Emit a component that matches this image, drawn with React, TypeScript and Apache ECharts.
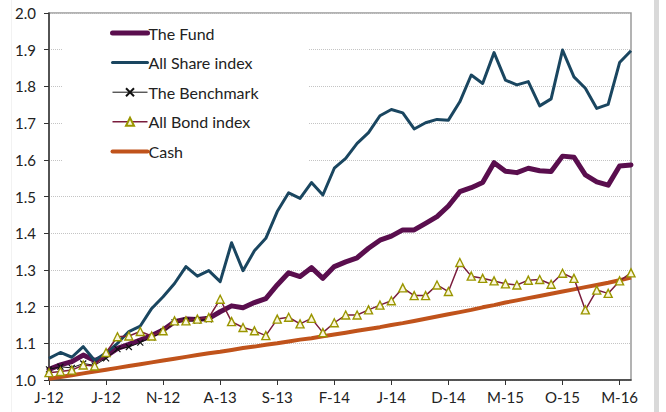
import React, { useEffect, useRef } from "react";
import * as echarts from "echarts";

const months = [
  "J-12","F-12","M-12","A-12","M-12","J-12","J-12","A-12","S-12","O-12","N-12","D-12",
  "J-13","F-13","M-13","A-13","M-13","J-13","J-13","A-13","S-13","O-13","N-13","D-13",
  "J-14","F-14","M-14","A-14","M-14","J-14","J-14","A-14","S-14","O-14","N-14","D-14",
  "J-15","F-15","M-15","A-15","M-15","J-15","J-15","A-15","S-15","O-15","N-15","D-15",
  "J-16","F-16","M-16","A-16"
];

const fund = [
  1.029,1.041,1.050,1.068,1.053,1.065,1.086,1.097,1.109,1.121,1.136,1.159,
  1.166,1.165,1.168,1.186,1.202,1.197,1.211,1.222,1.259,1.292,1.282,1.306,
  1.277,1.309,1.322,1.333,1.359,1.381,1.392,1.409,1.409,1.427,1.445,1.474,
  1.513,1.524,1.538,1.592,1.569,1.565,1.577,1.570,1.568,1.610,1.607,1.559,
  1.540,1.531,1.583,1.586
];

const shareIndex = [
  1.059,1.075,1.062,1.091,1.053,1.074,1.100,1.132,1.147,1.195,1.227,1.263,
  1.309,1.283,1.298,1.268,1.374,1.298,1.352,1.386,1.459,1.510,1.495,1.538,
  1.504,1.577,1.604,1.645,1.674,1.720,1.737,1.728,1.684,1.701,1.710,1.708,
  1.758,1.831,1.808,1.892,1.817,1.804,1.813,1.747,1.766,1.899,1.826,1.795,
  1.740,1.751,1.865,1.897
];

const benchmark: (number | null)[] = [
  1.029,1.036,1.033,1.045,1.040,1.059,1.084,1.090,1.102,1.116,1.131,1.157,
  1.161,1.162,1.165,null,null,null,null,null,null,null,null,null,
  null,null,null,null,null,null,null,null,null,null,null,null,
  null,null,null,null,null,null,null,null,null,null,null,null,
  null,null,null,null
];

const bondIndex = [
  1.020,1.023,1.027,1.041,1.038,1.075,1.118,1.120,1.132,1.120,1.134,1.161,
  1.161,1.166,1.170,1.220,1.159,1.143,1.134,1.121,1.166,1.171,1.153,1.168,
  1.129,1.156,1.177,1.177,1.191,1.204,1.216,1.251,1.230,1.230,1.259,1.241,
  1.320,1.283,1.277,1.270,1.262,1.259,1.272,1.274,1.261,1.291,1.277,1.191,
  1.245,1.236,1.270,1.292
];

const cash = [
  1.003,1.008,1.013,1.018,1.023,1.028,1.033,1.038,1.043,1.048,1.053,1.058,
  1.063,1.068,1.073,1.077,1.082,1.087,1.091,1.096,1.100,1.105,1.110,1.114,
  1.119,1.124,1.129,1.134,1.139,1.144,1.150,1.155,1.161,1.167,1.173,1.179,
  1.185,1.191,1.198,1.204,1.211,1.217,1.223,1.229,1.235,1.241,1.247,1.253,
  1.259,1.265,1.272,1.279
];

const FONT = "Lato, 'Open Sans', sans-serif";

export default function App() {
  const ref = useRef<HTMLDivElement>(null);
  useEffect(() => {
    if (!ref.current) return;
    const chart = echarts.init(ref.current, null, { renderer: "svg" });
    const hidden = { opacity: 0 };
    chart.setOption({
      animation: false,
      backgroundColor: "#ffffff",
      textStyle: { fontFamily: FONT },
      graphic: [
        { type: "rect", left: 654, top: 0, shape: { width: 5, height: 412 }, style: { fill: "#d9d9d9" }, z: 0 },
        { type: "rect", left: 11, top: 0, shape: { width: 1, height: 412 }, style: { fill: "#f2f2f2" }, z: 0 },
      ],
      grid: {
        left: 49, right: 35, top: 13, bottom: 32,
        show: true, borderColor: "#9a9a9a", borderWidth: 1.5, backgroundColor: "transparent",
      },
      legend: {
        orient: "vertical",
        left: 63,
        top: 15,
        padding: [10, 50, 14, 47],
        backgroundColor: "#ffffff",
        itemWidth: 35,
        itemHeight: 10,
        itemGap: 13.6,
        textStyle: { fontFamily: FONT, fontSize: 16, color: "#222", padding: [0, 0, 0, -4] },
        data: [
          { name: "The Fund", itemStyle: hidden, lineStyle: { width: 5, color: "#5a0e4e", cap: "round" } },
          { name: "All Share index", itemStyle: hidden, lineStyle: { width: 3, color: "#1a4660", cap: "round" } },
          { name: "The Benchmark", lineStyle: { width: 1, color: "#111" } },
          { name: "All Bond index", lineStyle: { width: 1.5, color: "#7a1c3c" } },
          { name: "Cash", itemStyle: hidden, lineStyle: { width: 4, color: "#c0531b", cap: "round" } },
        ],
        z: 3,
      },
      xAxis: {
        type: "category",
        data: months,
        boundaryGap: false,
        axisLine: { show: true, lineStyle: { color: "#333", width: 1.5 } },
        axisTick: { show: true, interval: 4, length: 5, lineStyle: { color: "#333", width: 1 } },
        axisLabel: { interval: 4, fontSize: 15, color: "#222", fontFamily: FONT, margin: 9 },
        splitLine: { show: false },
      },
      yAxis: {
        type: "value",
        min: 1,
        max: 2,
        interval: 0.1,
        axisLine: { show: true, lineStyle: { color: "#333", width: 1.5 } },
        axisTick: { show: true, length: 5, lineStyle: { color: "#333" } },
        axisLabel: {
          fontSize: 15, color: "#222", fontFamily: FONT, margin: 13,
          formatter: (v: number) => v.toFixed(1),
        },
        splitLine: { show: true, lineStyle: { color: "#c4c4c4", type: "dotted", width: 1 } },
      },
      series: [
        {
          name: "The Fund", type: "line", data: fund, symbol: "none", z: 2,
          lineStyle: { color: "#5a0e4e", width: 5, join: "round", cap: "round" }, itemStyle: { color: "#5a0e4e" },
        },
        {
          name: "All Share index", type: "line", data: shareIndex, symbol: "none", z: 3,
          lineStyle: { color: "#1a4660", width: 3, join: "round" }, itemStyle: { color: "#1a4660" },
        },
        {
          name: "The Benchmark", type: "line", data: benchmark, z: 4,
          symbol: "path://M0,0L10,10M10,0L0,10", symbolSize: 6, showSymbol: true, showAllSymbol: true,
          lineStyle: { color: "#111", width: 1 },
          itemStyle: { color: "none", borderColor: "#111", borderWidth: 1.2 },
        },
        {
          name: "All Bond index", type: "line", data: bondIndex, z: 5,
          symbol: "triangle", symbolSize: 8, showSymbol: true, showAllSymbol: true,
          lineStyle: { color: "#7a1c3c", width: 1.5 },
          itemStyle: { color: "#fbf7dc", borderColor: "#9a9600", borderWidth: 1.4 },
        },
        {
          name: "Cash", type: "line", data: cash, symbol: "none", z: 1,
          lineStyle: { color: "#c0531b", width: 4, join: "round" }, itemStyle: { color: "#c0531b" },
        },
      ],
    });
    return () => chart.dispose();
  }, []);
  return (
    <div
      ref={ref}
      style={{ position: "fixed", left: 0, top: 0, width: 666, height: 412 }}
    />
  );
}
